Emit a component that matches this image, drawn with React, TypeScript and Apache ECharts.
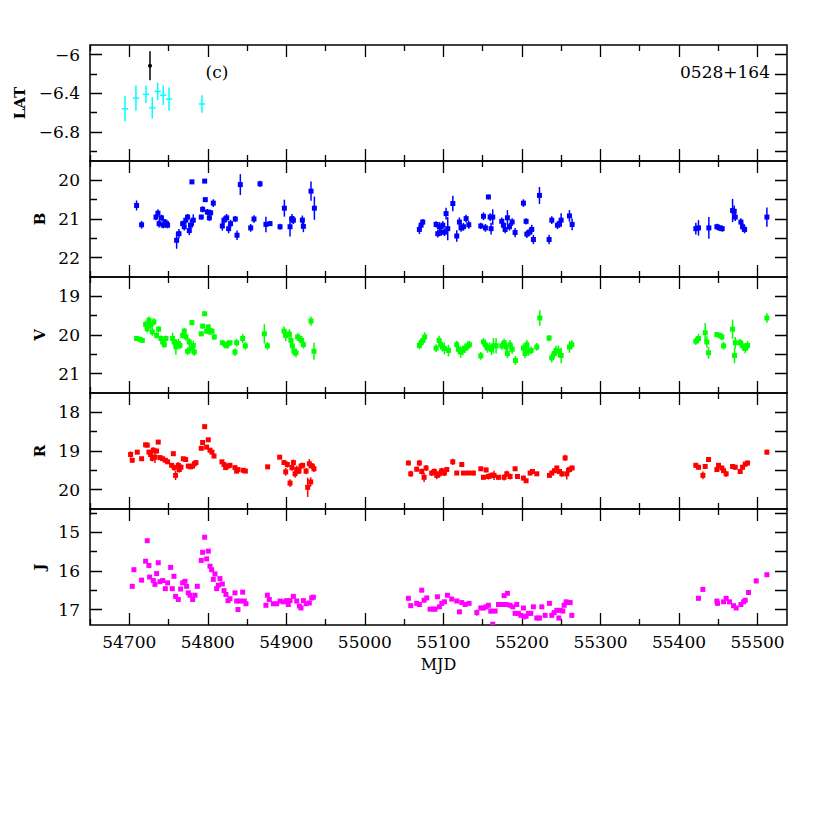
import React, { useEffect, useRef } from 'react';
import * as echarts from 'echarts';

// ---------- axis settings ----------
const X_MIN = 54650;
const X_MAX = 55537.5;
const X_STEP = 50;
const X_TICK_LABELS = [54700, 54800, 54900, 55000, 55100, 55200, 55300, 55400, 55500];
const X_MINOR_TICKS = [54650, 54750, 54850, 54950, 55050, 55150, 55250, 55350, 55450];

const LAT_TICK_LABELS = [-6.8, -6.4, -6];
const LAT_MINOR_TICKS = [-7, -6.6, -6.2];
const B_TICK_LABELS = [20, 21, 22];
const B_MINOR_TICKS = [20.5, 21.5];
const V_TICK_LABELS = [19, 20, 21];
const V_MINOR_TICKS = [19.5, 20.5];
const R_TICK_LABELS = [18, 19, 20];
const R_MINOR_TICKS = [18.5, 19.5];
const J_TICK_LABELS = [15, 16, 17];
const J_MINOR_TICKS = [14.5, 15.5, 16.5];

// ---------- data: [MJD, value, error] ----------
const LAT_BINS = [
  [54694.5, -6.56, 0.13], [54708.5, -6.45, 0.13], [54721.3, -6.41, 0.09], [54729.3, -6.55, 0.11],
  [54736.2, -6.38, 0.09], [54743.3, -6.42, 0.1], [54750.6, -6.46, 0.12], [54792.6, -6.51, 0.09],
];
const LAT_BIN_HALFWIDTH = 4;
const LAT_SINGLE = [[54726.4, -6.115, 0.15]];

const B_DATA = [
  [54709.3, 20.65, 0.13], [54715.7, 21.15, 0.1], [54734.0, 20.95, 0.08], [54736.5, 20.85, 0.1],
  [54738.0, 21.12, 0.1], [54741.0, 20.97, 0.08], [54743.3, 21.16, 0.08], [54745.4, 21.08, 0.08],
  [54747.6, 21.12, 0.08], [54748.8, 21.16, 0.08], [54760.3, 21.55, 0.22], [54763.3, 21.38, 0.12],
  [54768.0, 21.12, 0.08], [54770.0, 21.2, 0.1], [54772.0, 21.03, 0.1], [54774.3, 20.95, 0.08],
  [54776.4, 21.3, 0.12], [54778.0, 21.16, 0.15], [54779.8, 20.04, 0.05], [54781.5, 21.03, 0.15],
  [54791.7, 20.95, 0.06], [54793.4, 20.75, 0.08], [54796.0, 20.02, 0.04], [54796.8, 20.5, 0.06],
  [54799.4, 20.82, 0.08], [54802.0, 20.97, 0.08], [54803.6, 20.84, 0.08], [54807.0, 20.59, 0.1],
  [54818.5, 21.18, 0.12], [54820.6, 21.03, 0.1], [54824.0, 20.97, 0.1], [54826.5, 21.25, 0.12],
  [54829.0, 21.12, 0.1], [54835.0, 21.0, 0.08], [54837.2, 21.42, 0.12], [54841.4, 20.11, 0.27],
  [54854.6, 21.23, 0.1], [54858.8, 21.0, 0.1], [54866.5, 20.09, 0.08], [54874.0, 21.14, 0.2],
  [54879.2, 21.12, 0.06], [54892.0, 21.2, 0.08], [54897.5, 20.72, 0.22], [54904.7, 21.2, 0.25],
  [54907.2, 20.99, 0.12], [54909.0, 21.03, 0.1], [54920.4, 21.03, 0.12], [54921.7, 21.19, 0.15],
  [54931.4, 20.28, 0.25], [54935.7, 20.72, 0.3],
  [55069.4, 21.27, 0.12], [55071.6, 21.16, 0.1], [55073.7, 21.08, 0.08], [55090.7, 21.14, 0.08],
  [55092.8, 21.38, 0.1], [55094.9, 21.2, 0.12], [55097.0, 21.34, 0.1], [55099.2, 21.16, 0.1],
  [55101.3, 21.34, 0.1], [55103.4, 20.86, 0.15], [55105.5, 21.25, 0.3], [55112.0, 20.6, 0.2],
  [55117.0, 21.44, 0.15], [55120.4, 21.08, 0.12], [55122.5, 21.23, 0.1], [55125.5, 21.2, 0.1],
  [55128.9, 20.99, 0.1], [55132.3, 21.15, 0.1], [55147.6, 21.18, 0.08], [55151.0, 20.93, 0.1],
  [55153.5, 21.23, 0.1], [55157.3, 20.43, 0.06], [55159.5, 20.95, 0.1], [55160.7, 21.25, 0.15],
  [55162.8, 20.95, 0.2], [55174.3, 21.06, 0.1], [55176.4, 21.16, 0.1], [55178.6, 21.27, 0.1],
  [55181.5, 20.97, 0.2], [55184.1, 21.2, 0.1], [55187.5, 21.08, 0.1], [55191.3, 21.35, 0.12],
  [55201.9, 20.59, 0.1], [55205.3, 21.06, 0.08], [55206.2, 21.39, 0.1], [55209.6, 21.34, 0.1],
  [55212.5, 21.27, 0.12], [55214.6, 21.53, 0.12], [55222.3, 20.39, 0.22], [55234.6, 21.53, 0.12],
  [55238.0, 21.03, 0.1], [55245.2, 21.16, 0.1], [55247.8, 21.12, 0.1], [55249.9, 21.03, 0.18],
  [55260.5, 20.92, 0.15], [55263.9, 21.14, 0.15],
  [55421.4, 21.25, 0.15], [55424.8, 21.23, 0.2], [55438.0, 21.23, 0.28], [55448.2, 21.2, 0.08],
  [55451.6, 21.23, 0.08], [55455.0, 21.25, 0.08], [55468.2, 20.78, 0.3], [55470.3, 20.8, 0.15],
  [55471.6, 20.95, 0.1], [55478.8, 21.08, 0.1], [55480.9, 21.2, 0.12], [55483.5, 21.27, 0.1],
  [55511.9, 20.95, 0.25],
];

const V_DATA = [
  [54709.3, 20.09, 0.06], [54713.6, 20.11, 0.06], [54716.6, 20.14, 0.06], [54720.8, 19.73, 0.1],
  [54722.9, 19.84, 0.1], [54725.0, 19.62, 0.1], [54727.2, 19.75, 0.1], [54729.3, 19.92, 0.1],
  [54731.4, 19.66, 0.1], [54734.8, 20.01, 0.08], [54737.4, 19.85, 0.08], [54740.3, 20.09, 0.08],
  [54742.5, 20.18, 0.08], [54744.6, 20.25, 0.08], [54746.7, 20.09, 0.08], [54755.2, 20.09, 0.15],
  [54757.3, 20.18, 0.12], [54759.4, 20.31, 0.2], [54762.4, 20.22, 0.12], [54764.5, 20.27, 0.1],
  [54768.0, 20.01, 0.08], [54770.0, 19.9, 0.08], [54772.2, 20.05, 0.1], [54774.3, 20.42, 0.1],
  [54776.4, 20.18, 0.1], [54778.6, 20.35, 0.12], [54779.8, 19.68, 0.06], [54781.5, 20.27, 0.12],
  [54782.8, 20.44, 0.1], [54791.7, 19.97, 0.06], [54793.4, 19.77, 0.06], [54796.0, 19.45, 0.05],
  [54798.5, 19.9, 0.06], [54800.6, 19.79, 0.06], [54802.8, 19.92, 0.08], [54805.3, 19.9, 0.08],
  [54808.3, 20.05, 0.08], [54818.5, 20.2, 0.06], [54821.9, 20.25, 0.06], [54824.0, 20.28, 0.06],
  [54826.1, 20.22, 0.06], [54828.2, 20.2, 0.06], [54834.6, 20.44, 0.1], [54836.7, 20.2, 0.1],
  [54844.4, 20.09, 0.12], [54847.8, 20.28, 0.1], [54872.0, 19.97, 0.25], [54875.8, 20.28, 0.1],
  [54897.0, 19.9, 0.12], [54899.2, 20.01, 0.15], [54903.8, 19.97, 0.12], [54905.9, 20.14, 0.12],
  [54907.6, 20.28, 0.12], [54909.8, 20.42, 0.12], [54912.3, 20.46, 0.12], [54914.4, 20.05, 0.1],
  [54916.6, 20.09, 0.1], [54919.5, 20.14, 0.12], [54921.7, 20.25, 0.1], [54931.4, 19.64, 0.12],
  [54935.2, 20.42, 0.22],
  [55069.4, 20.27, 0.1], [55071.6, 20.2, 0.1], [55073.7, 20.14, 0.1], [55076.2, 20.05, 0.12],
  [55090.7, 20.34, 0.1], [55094.5, 20.14, 0.12], [55096.6, 20.25, 0.12], [55098.7, 20.31, 0.12],
  [55101.3, 20.35, 0.15], [55106.4, 20.4, 0.15], [55117.0, 20.25, 0.1], [55119.1, 20.37, 0.12],
  [55122.1, 20.44, 0.15], [55124.6, 20.4, 0.12], [55127.6, 20.34, 0.12], [55131.0, 20.28, 0.12],
  [55133.1, 20.25, 0.1], [55147.6, 20.54, 0.1], [55151.0, 20.18, 0.1], [55153.1, 20.25, 0.12],
  [55156.0, 20.34, 0.12], [55158.6, 20.31, 0.12], [55161.2, 20.37, 0.15], [55163.7, 20.28, 0.2],
  [55167.1, 20.28, 0.2], [55174.3, 20.28, 0.1], [55177.3, 20.2, 0.1], [55179.8, 20.31, 0.12],
  [55181.5, 20.48, 0.12], [55184.9, 20.25, 0.12], [55187.5, 20.37, 0.12], [55191.7, 20.66, 0.12],
  [55201.9, 20.34, 0.12], [55204.0, 20.48, 0.12], [55206.2, 20.25, 0.12], [55208.3, 20.42, 0.12],
  [55211.7, 20.4, 0.1], [55218.9, 20.31, 0.1], [55222.7, 19.56, 0.2], [55234.6, 20.08, 0.08],
  [55238.0, 20.59, 0.12], [55241.0, 20.48, 0.12], [55243.5, 20.4, 0.12], [55246.5, 20.42, 0.15],
  [55249.9, 20.53, 0.2], [55260.5, 20.31, 0.15], [55263.5, 20.25, 0.12],
  [55421.4, 20.16, 0.1], [55424.8, 20.09, 0.12], [55433.3, 19.94, 0.25], [55435.5, 20.18, 0.15],
  [55437.6, 20.46, 0.15], [55448.2, 19.99, 0.06], [55451.6, 20.01, 0.06], [55454.6, 20.05, 0.08],
  [55456.7, 20.28, 0.1], [55468.2, 19.85, 0.25], [55470.7, 20.53, 0.2], [55471.6, 20.2, 0.15],
  [55477.9, 20.2, 0.1], [55480.9, 20.28, 0.12], [55484.3, 20.35, 0.12], [55487.3, 20.27, 0.12],
  [55511.9, 19.56, 0.12],
];

const R_DATA = [
  [54701.7, 19.09, 0.08], [54703.8, 19.24, 0.06], [54710.2, 19.03, 0.04], [54715.7, 19.2, 0.04],
  [54720.8, 18.84, 0.04], [54722.9, 18.85, 0.04], [54725.0, 19.03, 0.06], [54727.2, 19.09, 0.06],
  [54729.3, 19.19, 0.08], [54730.6, 18.98, 0.08], [54732.7, 19.16, 0.15], [54734.8, 19.0, 0.06],
  [54736.9, 18.77, 0.04], [54739.1, 19.17, 0.04], [54742.5, 19.2, 0.04], [54745.9, 19.24, 0.04],
  [54748.8, 19.28, 0.04], [54753.9, 19.37, 0.06], [54756.1, 19.07, 0.06], [54757.3, 19.43, 0.08],
  [54759.0, 19.63, 0.12], [54762.4, 19.37, 0.08], [54763.7, 19.48, 0.08], [54765.8, 19.42, 0.08],
  [54768.8, 19.2, 0.04], [54771.8, 19.22, 0.04], [54775.2, 19.39, 0.04], [54778.1, 19.41, 0.04],
  [54780.7, 19.39, 0.04], [54782.8, 19.33, 0.04], [54784.9, 19.3, 0.04], [54791.7, 18.93, 0.04],
  [54793.4, 18.78, 0.04], [54796.0, 18.37, 0.04], [54798.5, 18.9, 0.04], [54800.6, 18.71, 0.04],
  [54802.8, 18.98, 0.04], [54805.3, 19.03, 0.04], [54807.9, 19.13, 0.06], [54818.0, 19.28, 0.04],
  [54820.6, 19.35, 0.06], [54822.7, 19.43, 0.06], [54825.3, 19.39, 0.06], [54828.2, 19.37, 0.04],
  [54834.6, 19.43, 0.04], [54836.7, 19.52, 0.06], [54838.4, 19.48, 0.04], [54845.2, 19.5, 0.04],
  [54847.8, 19.52, 0.04], [54876.2, 19.41, 0.04], [54891.5, 19.16, 0.04], [54897.0, 19.3, 0.06],
  [54899.2, 19.54, 0.1], [54901.3, 19.35, 0.08], [54904.7, 19.83, 0.1], [54907.2, 19.43, 0.08],
  [54909.0, 19.3, 0.08], [54911.1, 19.59, 0.1], [54913.2, 19.48, 0.1], [54916.1, 19.52, 0.08],
  [54918.7, 19.39, 0.08], [54920.8, 19.37, 0.06], [54925.1, 19.52, 0.08], [54927.2, 19.94, 0.25],
  [54929.3, 19.33, 0.12], [54931.0, 19.8, 0.12], [54933.1, 19.39, 0.08], [54935.2, 19.46, 0.08],
  [55055.4, 19.31, 0.06], [55058.4, 19.59, 0.08], [55066.0, 19.47, 0.06], [55069.4, 19.31, 0.08],
  [55072.4, 19.53, 0.08], [55075.4, 19.68, 0.12], [55077.9, 19.44, 0.08], [55085.1, 19.57, 0.08],
  [55088.5, 19.53, 0.08], [55091.5, 19.63, 0.1], [55094.9, 19.59, 0.1], [55097.9, 19.51, 0.08],
  [55101.3, 19.57, 0.08], [55104.3, 19.48, 0.06], [55111.9, 19.28, 0.08], [55117.0, 19.57, 0.04],
  [55123.4, 19.35, 0.04], [55125.5, 19.57, 0.04], [55131.9, 19.57, 0.04], [55138.2, 19.57, 0.06],
  [55147.6, 19.46, 0.04], [55151.0, 19.68, 0.06], [55154.4, 19.49, 0.06], [55157.3, 19.66, 0.08],
  [55161.6, 19.63, 0.08], [55164.5, 19.63, 0.12], [55170.1, 19.68, 0.06], [55177.3, 19.68, 0.08],
  [55180.7, 19.59, 0.08], [55184.9, 19.66, 0.08], [55191.3, 19.46, 0.06], [55194.3, 19.66, 0.06],
  [55201.9, 19.7, 0.06], [55205.3, 19.77, 0.06], [55210.4, 19.57, 0.04], [55213.4, 19.53, 0.04],
  [55218.9, 19.59, 0.04], [55235.0, 19.63, 0.06], [55238.0, 19.57, 0.06], [55241.4, 19.51, 0.06],
  [55244.4, 19.44, 0.06], [55247.8, 19.53, 0.06], [55250.8, 19.59, 0.08], [55255.0, 19.18, 0.08],
  [55257.1, 19.59, 0.15], [55260.5, 19.48, 0.08], [55263.9, 19.44, 0.06],
  [55421.4, 19.37, 0.06], [55424.8, 19.42, 0.06], [55430.4, 19.63, 0.1], [55433.3, 19.4, 0.06],
  [55437.6, 19.22, 0.06], [55448.2, 19.48, 0.06], [55450.3, 19.37, 0.06], [55454.6, 19.44, 0.06],
  [55456.7, 19.51, 0.06], [55460.0, 19.59, 0.08], [55468.2, 19.4, 0.06], [55471.6, 19.42, 0.06],
  [55477.9, 19.53, 0.06], [55480.9, 19.42, 0.06], [55484.3, 19.34, 0.06], [55487.3, 19.31, 0.06],
  [55511.9, 19.03, 0.06],
];

const J_DATA = [
  [54703.8, 16.4, 0.03], [54705.9, 15.97, 0.03], [54715.7, 16.24, 0.03], [54720.8, 15.75, 0.03],
  [54722.9, 15.22, 0.03], [54725.0, 15.86, 0.03], [54725.9, 16.16, 0.03], [54730.6, 16.25, 0.03],
  [54732.7, 16.35, 0.03], [54734.8, 16.07, 0.03], [54736.9, 15.79, 0.03], [54739.1, 16.28, 0.03],
  [54742.5, 16.25, 0.03], [54745.9, 16.46, 0.03], [54748.8, 16.31, 0.03], [54752.7, 15.91, 0.03],
  [54754.8, 16.46, 0.03], [54756.9, 16.14, 0.03], [54759.0, 16.66, 0.03], [54762.4, 16.74, 0.03],
  [54765.4, 16.47, 0.03], [54768.0, 16.31, 0.03], [54770.9, 16.27, 0.03], [54773.0, 16.4, 0.03],
  [54775.2, 16.57, 0.03], [54777.3, 16.63, 0.03], [54780.7, 16.74, 0.03], [54783.7, 16.63, 0.03],
  [54786.6, 16.4, 0.03], [54791.7, 15.73, 0.03], [54793.4, 15.52, 0.03], [54796.0, 15.13, 0.03],
  [54798.5, 15.69, 0.03], [54800.6, 15.49, 0.03], [54802.8, 15.88, 0.03], [54804.9, 15.97, 0.03],
  [54807.0, 16.22, 0.03], [54809.1, 16.08, 0.03], [54811.3, 16.46, 0.03], [54813.4, 16.37, 0.03],
  [54815.5, 16.2, 0.03], [54818.5, 16.34, 0.03], [54820.6, 16.51, 0.03], [54823.1, 16.61, 0.03],
  [54825.7, 16.77, 0.03], [54828.2, 16.72, 0.03], [54834.6, 16.57, 0.03], [54836.7, 16.78, 0.03],
  [54838.4, 17.0, 0.06], [54841.0, 16.78, 0.03], [54844.4, 16.55, 0.03], [54846.5, 16.78, 0.03],
  [54848.6, 16.85, 0.04], [54874.0, 16.89, 0.04], [54875.8, 16.63, 0.03], [54878.3, 16.74, 0.04],
  [54883.4, 16.85, 0.04], [54887.7, 16.85, 0.03], [54892.0, 16.78, 0.03], [54896.2, 16.8, 0.03],
  [54900.4, 16.77, 0.04], [54902.5, 16.87, 0.04], [54904.7, 16.77, 0.03], [54909.0, 16.66, 0.03],
  [54913.2, 16.78, 0.04], [54916.6, 16.91, 0.04], [54918.7, 16.96, 0.04], [54921.7, 16.77, 0.04],
  [54925.1, 16.85, 0.04], [54929.3, 16.83, 0.04], [54932.3, 16.7, 0.03], [54934.4, 16.68, 0.03],
  [55055.4, 16.71, 0.05], [55058.4, 16.9, 0.04], [55066.0, 16.84, 0.04], [55069.4, 16.87, 0.04],
  [55072.4, 16.5, 0.04], [55075.4, 16.76, 0.04], [55078.8, 16.7, 0.04], [55083.0, 16.99, 0.04],
  [55087.3, 16.99, 0.04], [55089.4, 16.99, 0.04], [55092.4, 16.67, 0.04], [55094.9, 16.93, 0.04],
  [55097.9, 16.84, 0.04], [55101.3, 16.8, 0.04], [55105.1, 16.63, 0.04], [55110.6, 16.73, 0.03],
  [55117.0, 16.78, 0.03], [55120.4, 17.06, 0.04], [55123.4, 16.82, 0.03], [55127.6, 16.87, 0.03],
  [55132.7, 16.84, 0.03], [55142.5, 17.08, 0.08], [55147.6, 16.96, 0.04], [55151.0, 16.96, 0.04],
  [55154.4, 16.93, 0.04], [55157.3, 16.89, 0.06], [55160.3, 17.04, 0.06], [55162.8, 17.38, 0.05],
  [55165.8, 17.04, 0.04], [55170.1, 16.87, 0.03], [55174.3, 16.87, 0.03], [55177.3, 16.64, 0.04],
  [55179.8, 16.87, 0.03], [55181.5, 16.58, 0.04], [55184.9, 16.89, 0.03], [55188.3, 16.93, 0.03],
  [55191.3, 17.1, 0.04], [55193.4, 16.87, 0.03], [55195.5, 17.1, 0.04], [55198.5, 17.15, 0.04],
  [55201.9, 16.96, 0.04], [55202.8, 17.19, 0.04], [55205.3, 17.17, 0.04], [55208.3, 17.1, 0.04],
  [55211.3, 17.1, 0.04], [55214.6, 16.93, 0.04], [55218.9, 17.22, 0.06], [55222.3, 17.22, 0.06],
  [55225.3, 16.93, 0.04], [55229.5, 17.15, 0.06], [55235.0, 16.84, 0.03], [55238.0, 17.15, 0.05],
  [55241.0, 17.08, 0.04], [55244.4, 17.02, 0.04], [55247.0, 17.22, 0.06], [55248.6, 17.02, 0.04],
  [55252.0, 17.04, 0.04], [55253.7, 16.89, 0.04], [55256.3, 16.8, 0.04], [55258.4, 16.82, 0.03],
  [55261.4, 16.82, 0.03], [55263.5, 17.15, 0.05],
  [55424.8, 16.71, 0.03], [55430.4, 16.48, 0.03], [55448.2, 16.78, 0.04], [55449.0, 16.84, 0.03],
  [55456.7, 16.8, 0.03], [55460.0, 16.71, 0.03], [55464.3, 16.8, 0.03], [55469.4, 16.9, 0.03],
  [55472.8, 16.96, 0.03], [55478.8, 16.87, 0.03], [55482.2, 16.8, 0.03], [55484.3, 16.76, 0.03],
  [55488.5, 16.56, 0.03], [55498.3, 16.26, 0.06], [55511.9, 16.1, 0.03],
];

// ---------- layout / style ----------
const FONT = 'DejaVu Serif';
const GRID_LEFT = 90;
const GRID_WIDTH = 697;
const GRID_TOP0 = 45;
const GRID_H = 116;
const CLEAR = 'rgba(0,0,0,0)';

const PANELS = [
  { name: 'LAT', min: -7.1, max: -5.9, step: 0.1, inverse: false, labels: LAT_TICK_LABELS, minors: LAT_MINOR_TICKS },
  { name: 'B', min: 19.5, max: 22.5, step: 0.5, inverse: true, labels: B_TICK_LABELS, minors: B_MINOR_TICKS },
  { name: 'V', min: 18.5, max: 21.5, step: 0.5, inverse: true, labels: V_TICK_LABELS, minors: V_MINOR_TICKS },
  { name: 'R', min: 17.5, max: 20.5, step: 0.5, inverse: true, labels: R_TICK_LABELS, minors: R_MINOR_TICKS },
  { name: 'J', min: 14.4, max: 17.4, step: 0.1, inverse: true, labels: J_TICK_LABELS, minors: J_MINOR_TICKS },
];

const near = (v: number, list: number[]) => list.some((t) => Math.abs(t - v) < 1e-6);

function tickValues(min: number, max: number, step: number) {
  const out: number[] = [];
  const n = Math.floor((max - min) / step + 1e-9);
  for (let i = 0; i <= n; i++) out.push(+(min + i * step).toFixed(6));
  if (out[out.length - 1] < max - 1e-9) out.push(max);
  return out;
}

function errRender(color: string, size: number, lw: number, xerr: number, dot: number) {
  return (params: any, api: any) => {
    const x = api.value(0);
    const y = api.value(1);
    const e = api.value(2);
    const c = api.coord([x, y]);
    const a = api.coord([x, y - e]);
    const b = api.coord([x, y + e]);
    const children: any[] = [
      { type: 'line', shape: { x1: c[0], y1: a[1], x2: c[0], y2: b[1] }, style: { stroke: color, lineWidth: lw } },
    ];
    if (xerr) {
      const l = api.coord([x - xerr, y]);
      const r = api.coord([x + xerr, y]);
      children.push({ type: 'line', shape: { x1: l[0], y1: c[1], x2: r[0], y2: c[1] }, style: { stroke: color, lineWidth: lw } });
    }
    if (size) {
      children.push({ type: 'rect', shape: { x: c[0] - size / 2, y: c[1] - size / 2, width: size, height: size }, style: { fill: color } });
    }
    if (dot) {
      children.push({ type: 'circle', shape: { cx: c[0], cy: c[1], r: dot }, style: { fill: color } });
    }
    return { type: 'group', children };
  };
}

const fmtY = (v: number) => {
  const r = Math.round(v * 10) / 10;
  return String(r).replace('-', '\u2212');
};

function buildOption() {
  const grids: any[] = [];
  const xAxes: any[] = [];
  const yAxes: any[] = [];
  const xt = tickValues(X_MIN, X_MAX, X_STEP);
  const xMinorColors = xt.map((v) => (near(v, X_MINOR_TICKS) ? '#000' : CLEAR));
  const xMajorColors = xt.map((v) => (near(v, X_TICK_LABELS) ? '#000' : CLEAR));
  const labelStyle = { fontFamily: FONT, fontSize: 17, color: '#000' };

  PANELS.forEach((p, i) => {
    grids.push({
      left: GRID_LEFT, top: GRID_TOP0 + i * GRID_H, width: GRID_WIDTH, height: GRID_H,
      show: true, borderColor: '#000', borderWidth: 1.5, backgroundColor: CLEAR,
      containLabel: false, outerBoundsMode: 'none',
    });
    const last = i === PANELS.length - 1;
    xAxes.push({
      type: 'value', gridIndex: i, position: 'bottom', min: X_MIN, max: X_MAX, interval: X_STEP,
      axisLine: { show: false }, axisTick: { show: false },
      axisLabel: {
        show: last, margin: 8, ...labelStyle,
        formatter: (v: number) => (near(v, X_TICK_LABELS) ? String(v) : ''),
      },
      splitLine: { show: true, lineStyle: { color: xMinorColors, width: 1.3, type: [6, GRID_H - 12, 6, 500] } },
      name: last ? 'MJD' : '', nameLocation: 'middle', nameGap: 31,
      nameTextStyle: { fontFamily: FONT, fontSize: 16, color: '#000' },
    });
    xAxes.push({
      type: 'value', gridIndex: i, position: 'top', min: X_MIN, max: X_MAX, interval: X_STEP,
      axisLine: { show: false }, axisTick: { show: false }, axisLabel: { show: false },
      splitLine: { show: true, lineStyle: { color: xMajorColors, width: 1.3, type: [12, GRID_H - 24, 12, 500] } },
    });
    const yt = tickValues(p.min, p.max, p.step);
    const yMinorColors = yt.map((v) => (near(v, p.minors) ? '#000' : CLEAR));
    const yMajorColors = yt.map((v) => (near(v, p.labels) ? '#000' : CLEAR));
    yAxes.push({
      type: 'value', gridIndex: i, position: 'left', min: p.min, max: p.max, interval: p.step, inverse: p.inverse,
      axisLine: { show: false }, axisTick: { show: false },
      axisLabel: { margin: 10, ...labelStyle, formatter: (v: number) => (near(v, p.labels) ? fmtY(v) : '') },
      splitLine: { show: true, lineStyle: { color: yMinorColors, width: 1.3, type: [7, GRID_WIDTH - 19, 12, 2000] } },
      name: p.name, nameLocation: 'middle', nameGap: 42, nameRotate: 90,
      nameTextStyle: { fontFamily: FONT, fontSize: 15, fontWeight: 'bold', color: '#000' },
    });
    yAxes.push({
      type: 'value', gridIndex: i, position: 'right', min: p.min, max: p.max, interval: p.step, inverse: p.inverse,
      axisLine: { show: false }, axisTick: { show: false }, axisLabel: { show: false },
      splitLine: { show: true, lineStyle: { color: yMajorColors, width: 1.3, type: [12, GRID_WIDTH - 24, 12, 2000] } },
    });
  });

  const mk = (i: number, data: number[][], color: string, size: number, lw: number, xerr = 0, dot = 0) => ({
    type: 'custom', xAxisIndex: 2 * i, yAxisIndex: 2 * i, data, encode: { x: 0, y: 1 },
    renderItem: errRender(color, size, lw, xerr, dot), clip: true, silent: true, z: 5,
  });

  const series = [
    mk(0, LAT_BINS, '#00FFFF', 0, 1.5, LAT_BIN_HALFWIDTH),
    mk(0, LAT_SINGLE, '#000000', 0, 1.5, 0, 2),
    mk(1, B_DATA, '#0000FF', 5, 1.5),
    mk(2, V_DATA, '#00FF00', 5, 1.5),
    mk(3, R_DATA, '#FF0000', 5, 1.5),
    mk(4, J_DATA, '#FF00FF', 5, 1.5),
  ];

  return {
    animation: false,
    backgroundColor: '#fff',
    textStyle: { fontFamily: FONT },
    grid: grids,
    xAxis: xAxes,
    yAxis: yAxes,
    series,
    graphic: [
      { type: 'text', x: 217, y: 72, style: { text: '(c)', align: 'center', verticalAlign: 'middle', fontFamily: FONT, fontSize: 17, fill: '#000' } },
      { type: 'text', x: 770, y: 72, style: { text: '0528+164', align: 'right', verticalAlign: 'middle', fontFamily: FONT, fontSize: 17, fill: '#000' } },
    ],
  };
}

export default function App() {
  const ref = useRef<HTMLDivElement>(null);
  useEffect(() => {
    document.body.style.margin = '0';
    if (!ref.current) return;
    const chart = echarts.init(ref.current, undefined, { renderer: 'svg' });
    chart.setOption(buildOption() as any);
    return () => chart.dispose();
  }, []);
  return <div ref={ref} style={{ position: 'absolute', left: 0, top: 0, width: 830, height: 830 }} />;
}
